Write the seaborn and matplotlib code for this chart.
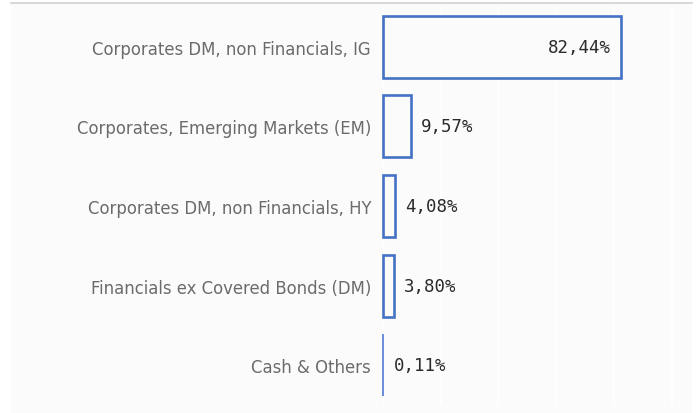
import matplotlib
matplotlib.use("Agg")
import matplotlib.pyplot as plt
import seaborn as sns
import pandas as pd
from matplotlib.patches import Rectangle
from matplotlib.lines import Line2D

categories = [
    "Corporates DM, non Financials, IG",
    "Corporates, Emerging Markets (EM)",
    "Corporates DM, non Financials, HY",
    "Financials ex Covered Bonds (DM)",
    "Cash & Others",
]
weights = [82.44, 9.57, 4.08, 3.80, 0.11]
value_labels = ["82,44%", "9,57%", "4,08%", "3,80%", "0,11%"]

df = pd.DataFrame({"category": categories, "weight": weights})

sns.set_theme(style="white")
plt.rcParams["font.family"] = ["DejaVu Sans"]

W, H = 698, 414
fig = plt.figure(figsize=(W / 100, H / 100), dpi=100, facecolor="white")

# light panel behind the chart with a thin rule along its top
fig.patches.append(Rectangle((11 / W, 0), (692 - 11) / W, (H - 4) / H,
                             transform=fig.transFigure, facecolor="#fbfbfb",
                             edgecolor="none", zorder=-10))
fig.lines.append(Line2D([11 / W, 692 / W], [1 - 4 / H, 1 - 4 / H],
                        transform=fig.transFigure, color="#d9d9d9", lw=1.5,
                        zorder=-5))

left, right = 383, 692
top, bottom = 8, 406
ax = fig.add_axes([left / W, 1 - bottom / H, (right - left) / W, (bottom - top) / H])
ax.set_facecolor("none")
ax.set_zorder(1)

sns.barplot(data=df, x="weight", y="category", orient="h", ax=ax,
            width=0.78, color="#fbfbfb", edgecolor="#4472c4", linewidth=1.9,
            saturation=1, zorder=3)

# keep the left outline visible at the axis edge; tiny shares become a thin rule
for bar, v in zip(ax.patches, weights):
    bar.set_clip_on(False)
    if v < 1:
        bar.set_linewidth(1.2)
        bar.set_edgecolor("#4f7bd3")
        bar.set_facecolor("#4f7bd3")

ax.set_xlim(0, (right - left) / 2.887)
ax.set_xticks([0, 20, 40, 60, 80, 100])
ax.xaxis.grid(True, color="white", lw=1.2, zorder=0)
ax.set_axisbelow(True)
ax.set_xlabel("")
ax.set_ylabel("")
ax.tick_params(axis="x", bottom=False, labelbottom=False)
ax.tick_params(axis="y", left=False, length=0, pad=8.6, labelsize=11.9,
               labelcolor="#6b6b6b")
for s in ax.spines.values():
    s.set_visible(False)

for i, (v, lab) in enumerate(zip(weights, value_labels)):
    if v > 50:
        ax.text(v - 3.5, i, lab, ha="right", va="center", fontsize=12.5,
                family="DejaVu Sans Mono", color="#2a2a2a", zorder=5)
    else:
        ax.text(v + 3.5, i, lab, ha="left", va="center", fontsize=12.5,
                family="DejaVu Sans Mono", color="#2a2a2a", zorder=5)

fig.savefig("out.png", dpi=100, facecolor="white")
